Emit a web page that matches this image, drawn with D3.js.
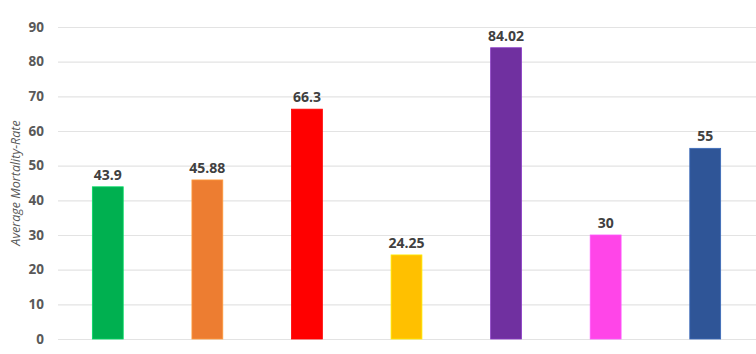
<!DOCTYPE html>
<html>
<head>
<meta charset="utf-8">
<script src="https://cdn.jsdelivr.net/npm/d3@7"></script>
<style>
  body { margin: 0; background: #fff; }
  text { font-family: "Open Sans", "DejaVu Sans", sans-serif; }
</style>
</head>
<body>
<script>
// chart data
const categories = ["G1", "G2", "G3", "G4", "G5", "G6", "G7"];
const values = [43.9, 45.88, 66.3, 24.25, 84.02, 30, 55];
const barColours = ["#00B050", "#ED7D31", "#FF0000", "#FFC000", "#7030A0", "#FF45E8", "#2F5597"];
const yTicks = [0, 10, 20, 30, 40, 50, 60, 70, 80, 90];

// SVG dimensions
const width = 756, height = 354;
const plotLeft = 58, plotRight = 755, plotTop = 27, plotBottom = 339;

const svg = d3.select("body")
    .append("svg")
    .attr("width", width)
    .attr("height", height);

// scales
let x = d3.scaleBand()
    .domain(categories)
    .range([plotLeft, plotRight])
    .paddingInner(0.69)
    .paddingOuter(0.345);
let y = d3.scaleLinear()
    .domain([0, 90])
    .range([plotBottom, plotTop]);

// gridlines + tick labels
let yAxis = svg.append("g")
    .attr("transform", `translate(${plotLeft}, 0)`)
    .call(d3.axisLeft(y)
        .tickValues(yTicks)
        .tickSize(-(plotRight - plotLeft + 1))
        .tickPadding(14));
yAxis.select(".domain").remove();
yAxis.selectAll(".tick line")
    .attr("stroke", "#e3e3e3")
    .attr("stroke-width", 1.2);
yAxis.selectAll(".tick text")
    .attr("fill", "#595959")
    .style("font-size", "13.5px")
    .style("font-weight", "bold");

// axis title
svg.append("text")
    .attr("transform", `translate(20, 183) rotate(-90)`)
    .attr("text-anchor", "middle")
    .attr("fill", "#595959")
    .style("font-size", "12.5px")
    .style("font-style", "italic")
    .text("Average Mortality-Rate");

// bars
svg.selectAll(".bar")
    .data(values)
    .enter()
    .append("rect")
    .attr("class", "bar")
    .attr("x", (d, i) => x(categories[i]))
    .attr("y", (d) => y(d))
    .attr("width", x.bandwidth())
    .attr("height", (d) => y(0) - y(d))
    .attr("fill", (d, i) => barColours[i])
    .attr("stroke", (d, i) => d3.color(barColours[i]).brighter(0.6))
    .attr("stroke-width", 0.8);

// value labels
svg.selectAll(".label")
    .data(values)
    .enter()
    .append("text")
    .attr("class", "label")
    .attr("x", (d, i) => x(categories[i]) + x.bandwidth() / 2)
    .attr("y", (d) => y(d) - 7)
    .attr("text-anchor", "middle")
    .attr("fill", "#404040")
    .style("font-size", "14px")
    .style("font-weight", "bold")
    .text((d) => d);
</script>
</body>
</html>
